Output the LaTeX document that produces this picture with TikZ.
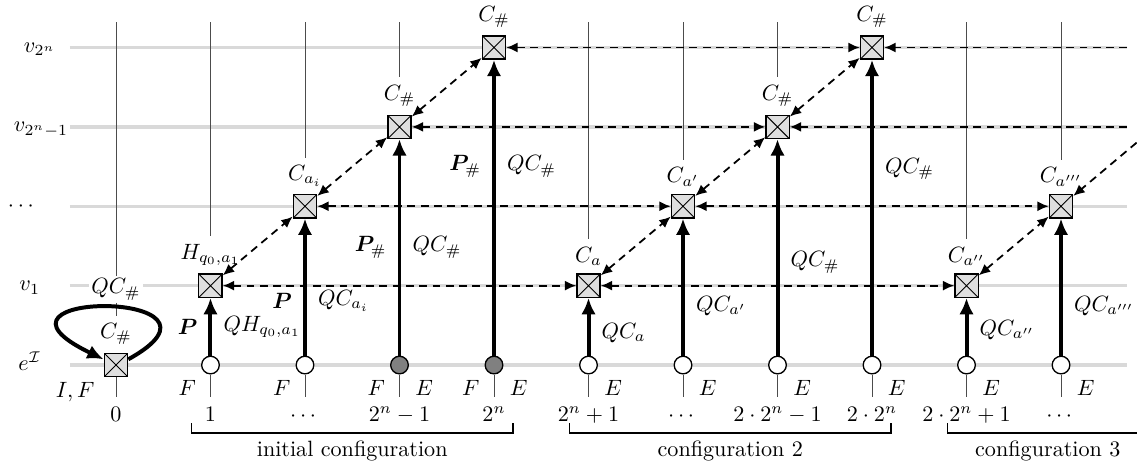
\documentclass[tikz,border=0pt]{standalone}
\usepackage{amsmath,amssymb}
\usepackage{bm}
\usetikzlibrary{arrows.meta,positioning,calc}

\begin{document}
\begin{tikzpicture}[
    >={Latex[length=1.8mm,width=1.6mm]},
    box/.style={rectangle, draw, semithick, fill=gray!25, minimum size=3.7mm, inner sep=0pt,
        path picture={\draw[thin] (path picture bounding box.north west) -- (path picture bounding box.south east)
            (path picture bounding box.north east) -- (path picture bounding box.south west);}},
    dot/.style={circle, draw, semithick, fill=white, minimum size=2.8mm, inner sep=0pt},
    full/.style={dot, fill=gray},
    arr/.style={-{Latex[length=2.6mm,width=2.3mm]}, line width=1.8pt},
    dline/.style={thick, dash pattern=on 3.5pt off 2.5pt},
    darr/.style={dline, <->},
    dto/.style={dline, ->},
    row/.style={gray!30, line width=1.6pt},
    col/.style={black!70, thin},
    alab/.style={inner sep=5pt},
    blab/.style={inner sep=1pt},
    brk/.style={semithick}
]
    \useasboundingbox (-1.841,-1.635) rectangle (16.206,5.794);

    % rows
    \foreach \y in {0,1.26,2.52,3.78,5.04}
        \draw[row] (-0.73,\y) -- (16.05,\y);
    \node[anchor=base] (re) at (-1.37,-0.08) {$e^{\mathcal{I}}$};
    \node[anchor=base] (r1) at (-1.37,1.18) {$v_1$};
    \node[anchor=base] (r2) at (-1.48,2.44) {$\cdots$};
    \node[anchor=base] (r3) at (-1.19,3.70) {$v_{2^n-1}$};
    \node[anchor=base] (r4) at (-1.21,4.96) {$v_{2^n}$};

    % boxes
    \node[box, label={[name=l0]above:$C_\#$}] (b0) at (0,0) {};
    \node[box, label={[name=l1]above:$H_{q_0,a_1}$}] (b1) at (1.5,1.26) {};
    \node[box, label={[name=l2]above:$C_{a_i}$}] (b2) at (3,2.52) {};
    \node[box, label={[name=l3]above:$C_\#$}] (b3) at (4.5,3.78) {};
    \node[box, label={[name=l4]above:$C_\#$}] (b4) at (6,5.04) {};
    \node[box, label={[name=l5]above:$C_a$}] (b5) at (7.5,1.26) {};
    \node[box, label={[name=l6]above:$C_{a'}$}] (b6) at (9,2.52) {};
    \node[box, label={[name=l7]above:$C_\#$}] (b7) at (10.5,3.78) {};
    \node[box, label={[name=l8]above:$C_\#$}] (b8) at (12,5.04) {};
    \node[box, label={[name=l9]above:$C_{a''}$}] (b9) at (13.5,1.26) {};
    \node[box, label={[name=l10]above:$C_{a'''}$}] (b10) at (15,2.52) {};

    % cells on e^I
    \foreach \i/\s in {1/dot,2/dot,3/full,4/full,5/dot,6/dot,7/dot,8/dot,9/dot,10/dot}
        \node[\s] (c\i) at (1.5*\i,0) {};

    % column lines
    \foreach \i in {0,1,2,3,5,6,7,9,10}
        \coordinate (t\i) at (1.5*\i,5.44);
    \foreach \i in {0,...,10}
        \coordinate (e\i) at (1.5*\i,-0.51);
    \foreach \i in {1,2,3,5,6,7,9,10}
        \draw[col] (t\i) -- (l\i);
    \foreach \i in {1,...,10}
        \draw[col] (c\i) -- (e\i);
    \node[fill=white, inner sep=1pt] (q0) at (0,1.2) {$QC_\#$};
    \draw[col] (t0) -- (q0);
    \draw[col] (q0) -- (l0);
    \draw[col] (b0) -- (e0);

    % self loop
    \draw[arr] (b0.25) .. controls (2.2,1.2) and (-2.5,1.2) .. (b0.155);

    % writes
    \draw[arr] (c1) -- node[left, alab] (p1) {$\bm{P}$} node[right, alab] (q1) {$QH_{q_0,a_1}$} (b1);
    \draw[arr] (c2) -- node[left, alab, pos=.4] (p2) {$\bm{P}$} node[right, alab, pos=.4] (q2) {$QC_{a_i}$} (b2);
    \draw[arr] (c3) -- node[left, alab] (p3) {$\bm{P}_\#$} node[right, alab] (q3) {$QC_\#$} (b3);
    \draw[arr] (c4) -- node[left, alab, pos=.64] (p4) {$\bm{P}_\#$} node[right, alab, pos=.64] (q4) {$QC_\#$} (b4);
    \draw[arr] (c5) -- node[right, alab, pos=.39] (q5) {$QC_a$} (b5);
    \draw[arr] (c6) -- node[right, alab, pos=.36] (q6) {$QC_{a'}$} (b6);
    \draw[arr] (c7) -- node[right, alab, pos=.43] (q7) {$QC_\#$} (b7);
    \draw[arr] (c8) -- node[right, alab, pos=.63] (q8) {$QC_\#$} (b8);
    \draw[arr] (c9) -- node[right, alab, pos=.44] (q9) {$QC_{a''}$} (b9);
    \draw[arr] (c10) -- node[right, alab, pos=.36] (q10) {$QC_{a'''}$} (b10);

    % horizontal links
    \coordinate (x3) at (16.05,3.78);
    \coordinate (x4) at (16.05,5.04);
    \coordinate (x10) at (16.2,3.53);
    \draw[darr] (b1) -- (b5);
    \draw[darr] (b5) -- (b9);
    \draw[darr] (b2) -- (b6);
    \draw[darr] (b6) -- (b10);
    \draw[darr] (b3) -- (b7);
    \draw[dto] (x3) -- (b7);
    \draw[darr] (b4) -- (b8);
    \draw[dto] (x4) -- (b8);

    % diagonal links
    \draw[darr] (b1) -- (b2);
    \draw[darr] (b2) -- (b3);
    \draw[darr] (b3) -- (b4);
    \draw[darr] (b5) -- (b6);
    \draw[darr] (b6) -- (b7);
    \draw[darr] (b7) -- (b8);
    \draw[darr] (b9) -- (b10);
    \draw[dto] (x10) -- (b10);

    % bottom labels
    \foreach \i/\t in {0/0,1/1,2/\cdots,3/2^n-1,4/2^n,5/2^n+1,6/\cdots,7/2\cdot 2^n-1,8/2\cdot 2^n,9/2\cdot 2^n+1,10/\cdots}
        \node[blab, anchor=base] (n\i) at (1.5*\i,-0.9) {$\t$};
    \node[blab, anchor=base east] (f0) at (-0.3,-0.52) {$I,F$};
    \foreach \i in {1,2,3,4}
        \node[blab, anchor=base east] (f\i) at (1.5*\i-0.19,-0.49) {$F$};
    \foreach \i in {3,...,10}
        \node[blab, anchor=base west] (g\i) at (1.5*\i+0.21,-0.49) {$E$};

    % configurations
    \draw[brk] (1.2,-0.92) -- (1.2,-1.08) -- node[below] (k1) {initial configuration} (6.3,-1.08) -- (6.3,-0.92);
    \draw[brk] (7.2,-0.92) -- (7.2,-1.08) -- node[below] (k2) {configuration 2} (12.3,-1.08) -- (12.3,-0.92);
    \draw[brk] (13.2,-0.92) -- (13.2,-1.08) -- node[below, pos=.53] (k3) {configuration 3} (16.2,-1.08);
\end{tikzpicture}
\end{document}
